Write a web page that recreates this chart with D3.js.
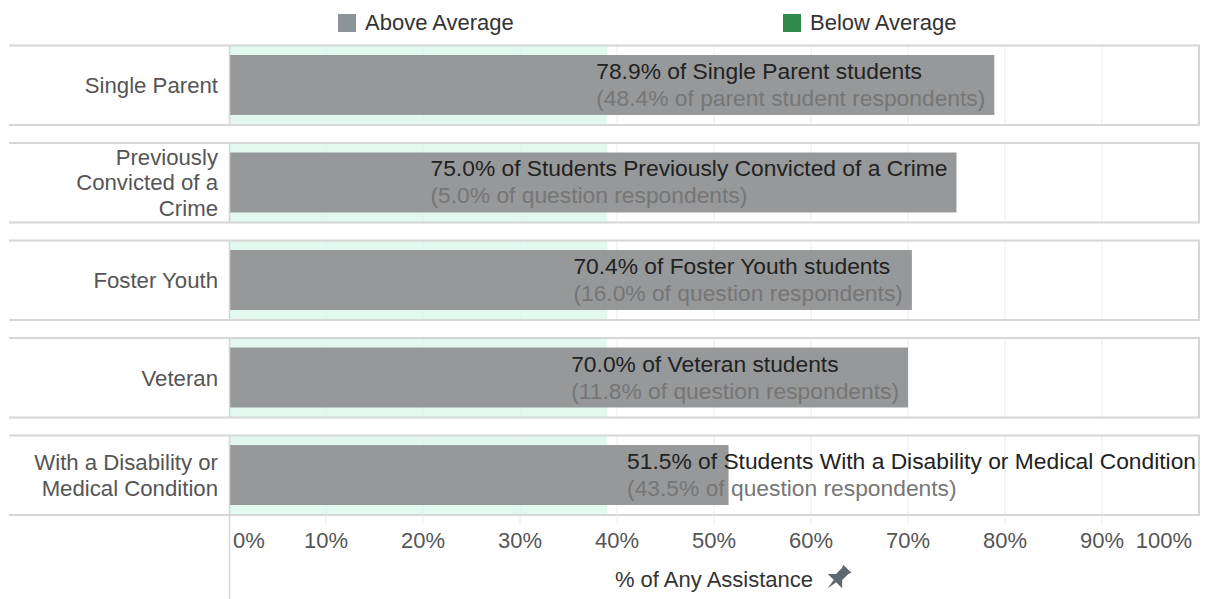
<!DOCTYPE html>
<html>
<head>
<meta charset="utf-8">
<script src="https://cdn.jsdelivr.net/npm/d3@7"></script>
<style>
  body { margin: 0; background: #fff; }
  svg text { font-family: "Liberation Sans", Arial, sans-serif; }
</style>
</head>
<body>
<svg id="chart"></svg>
<script>
var width = 1205, height = 599;

// data
var categories = ["Single Parent", "Previously Convicted of a Crime", "Foster Youth", "Veteran", "With a Disability or Medical Condition"];
var categoryLines = [["Single Parent"], ["Previously", "Convicted of a", "Crime"], ["Foster Youth"], ["Veteran"], ["With a Disability or", "Medical Condition"]];
var pctAssistance = [78.9, 75.0, 70.4, 70.0, 51.5];
var pctRespondents = [48.4, 5.0, 16.0, 11.8, 43.5];
var groupNames = ["Single Parent students", "Students Previously Convicted of a Crime", "Foster Youth students", "Veteran students", "Students With a Disability or Medical Condition"];
var respondentBase = ["parent student respondents", "question respondents", "question respondents", "question respondents", "question respondents"];
var averageBand = 39;
var tickValues = [0, 10, 20, 30, 40, 50, 60, 70, 80, 90, 100];
var legendLabels = ["Above Average", "Below Average"];
var legendColors = ["#8d9497", "#2f8a4c"];

var svg = d3.select("#chart").attr("width", width).attr("height", height);

var x = d3.scaleLinear().domain([0, 100]).range([229, 1199]);
var y = d3.scaleBand().domain(categories).range([45, 515]).paddingInner(0.18).paddingOuter(0);
var fs = 22.8;

// legend
var legendX = [338, 783];
legendLabels.forEach(function(l, i) {
  svg.append("rect").attr("x", legendX[i]).attr("y", 14).attr("width", 18).attr("height", 18).attr("fill", legendColors[i]);
  svg.append("text").attr("x", legendX[i] + 27).attr("y", 30).attr("font-size", fs - 0.8).attr("fill", "#333").text(l);
});

var rows = svg.selectAll("g.row").data(categories).enter().append("g").attr("class", "row");

// average band (mint)
rows.append("rect")
  .attr("x", x(0)).attr("y", function(d) { return y(d); })
  .attr("width", x(averageBand) - x(0)).attr("height", y.bandwidth())
  .attr("fill", "#e1f9ef");

// gridlines
rows.each(function(d) {
  d3.select(this).selectAll("line.grid").data(tickValues.slice(1, -1)).enter().append("line")
    .attr("x1", function(t) { return x(t); }).attr("x2", function(t) { return x(t); })
    .attr("y1", y(d)).attr("y2", y(d) + y.bandwidth())
    .attr("stroke", "#ececec").attr("stroke-width", 1);
});

// bars
rows.append("rect")
  .attr("x", x(0)).attr("y", function(d) { return y(d) + 10; })
  .attr("width", function(d, i) { return x(pctAssistance[i]) - x(0); })
  .attr("height", y.bandwidth() - 20)
  .attr("fill", "#979899");

// panel borders
rows.append("line").attr("x1", 9).attr("x2", 1200)
  .attr("y1", function(d) { return y(d) + 0.5; }).attr("y2", function(d) { return y(d) + 0.5; })
  .attr("stroke", "#d6d6d6").attr("stroke-width", 2);
rows.append("line").attr("x1", 9).attr("x2", 1200)
  .attr("y1", function(d) { return y(d) + y.bandwidth(); }).attr("y2", function(d) { return y(d) + y.bandwidth(); })
  .attr("stroke", "#d6d6d6").attr("stroke-width", 2);
rows.append("line").attr("x1", 1199).attr("x2", 1199)
  .attr("y1", function(d) { return y(d); }).attr("y2", function(d) { return y(d) + y.bandwidth(); })
  .attr("stroke", "#d6d6d6").attr("stroke-width", 2);
rows.append("line").attr("x1", 229.5).attr("x2", 229.5)
  .attr("y1", function(d) { return y(d); }).attr("y2", function(d) { return y(d) + y.bandwidth(); })
  .attr("stroke", "#d6d6d6").attr("stroke-width", 1.5);

// category labels
rows.each(function(d, i) {
  var lines = categoryLines[i];
  var mid = y(d) + y.bandwidth() / 2;
  var lh = 25.5;
  var t = d3.select(this).append("text").attr("text-anchor", "end").attr("font-size", fs - 0.6).attr("fill", "#555");
  lines.forEach(function(s, k) {
    t.append("tspan").attr("x", 218).attr("y", mid + 8 + (k - (lines.length - 1) / 2) * lh).text(s);
  });
});

// bar labels
rows.each(function(d, i) {
  var g = d3.select(this);
  var mid = y(d) + y.bandwidth() / 2;
  var t1 = g.append("text").attr("font-size", fs).attr("fill", "#222").attr("y", mid - 6)
    .text(pctAssistance[i].toFixed(1) + "% of " + groupNames[i]);
  var t2 = g.append("text").attr("font-size", fs).attr("fill", "#767676").attr("y", mid + 21)
    .text("(" + pctRespondents[i].toFixed(1) + "% of " + respondentBase[i] + ")");
  var w = Math.max(t1.node().getComputedTextLength(), t2.node().getComputedTextLength());
  var end = x(pctAssistance[i]);
  var lx;
  if (w + 18 <= end - x(0)) lx = end - 9 - w;
  else {
    lx = end + 3;
    if (lx + w > 1196) lx = 1196 - w;
  }
  t1.attr("x", lx); t2.attr("x", lx);
});

// axis area
var axisTop = y(categories[categories.length - 1]) + y.bandwidth();
svg.append("line").attr("x1", 229.5).attr("x2", 229.5).attr("y1", axisTop).attr("y2", height)
  .attr("stroke", "#d6d6d6").attr("stroke-width", 1.5);
svg.selectAll("line.tick").data(tickValues.slice(1, -1)).enter().append("line")
  .attr("x1", function(t) { return x(t); }).attr("x2", function(t) { return x(t); })
  .attr("y1", axisTop).attr("y2", axisTop + 9)
  .attr("stroke", "#ececec");
svg.selectAll("text.tick").data(tickValues).enter().append("text")
  .attr("font-size", fs - 0.8).attr("fill", "#555").attr("y", 548)
  .attr("x", function(t, i) { return i === 0 ? x(t) + 4 : (i === tickValues.length - 1 ? x(t) - 7 : x(t)); })
  .attr("text-anchor", function(t, i) { return i === 0 ? "start" : (i === tickValues.length - 1 ? "end" : "middle"); })
  .text(function(t) { return t + "%"; });

var title = svg.append("text").attr("x", (x(0) + x(100)) / 2).attr("y", 587).attr("text-anchor", "middle")
  .attr("font-size", fs - 0.8).attr("fill", "#333").text("% of Any Assistance");
var tw = title.node().getComputedTextLength();
var px = (x(0) + x(100)) / 2 + tw / 2 + 25, py = 578;
// pin icon
svg.append("path")
  .attr("transform", "translate(" + px + "," + py + ") rotate(45) scale(1.45)")
  .attr("d", "M-4,-9 L4,-9 L3,-7 L3,-1 L7,3 L-7,3 L-3,-1 L-3,-7 Z M-1.2,3 L0,10 L1.2,3 Z")
  .attr("fill", "#5d6770");
</script>
</body>
</html>
